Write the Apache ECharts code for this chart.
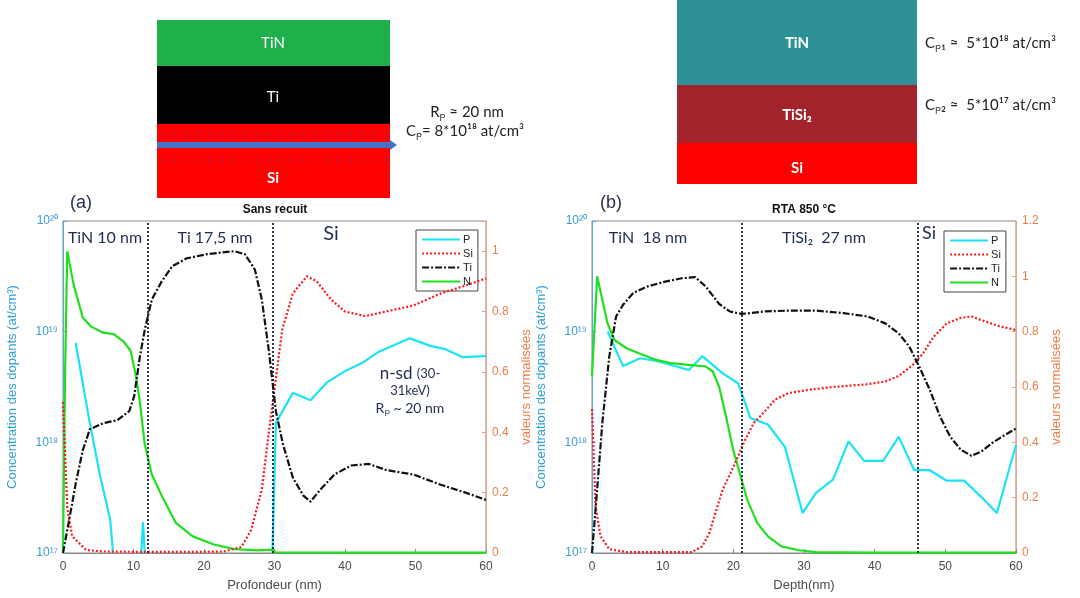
<!DOCTYPE html>
<html>
<head>
<meta charset="utf-8">
<script src="https://cdn.jsdelivr.net/npm/echarts@6/dist/echarts.min.js"></script>
<style>
html,body{margin:0;padding:0;background:#fff;}
#chart{width:1080px;height:598px;}
</style>
</head>
<body>
<div id="chart"></div>
<script>
// ---------- DATA ----------
const seriesNames = ['P', 'Si', 'Ti', 'N'];
const xTicks = [0, 10, 20, 30, 40, 50, 60];
const logTickExponents = [17, 18, 19, 20];

// (a) Sans recuit
const boundariesA = [12.0, 29.7];
const P_A_x = [1.8, 3.8, 5.2, 6.7, 7.1, 9.0, 11.1, 11.35, 11.6, 20.0, 29.7, 30.2, 32.6, 35.1, 37.5, 40.0, 42.4, 44.8, 49.2, 52.2, 54.1, 56.6, 60.0];
const P_A_y = [7.9e18, 1.5e18, 5.2e17, 2.0e17, 1e17, null, 1e17, 1.9e17, 1e17, null, 1e17, 1.5e18, 2.8e18, 2.4e18, 3.5e18, 4.4e18, 5.2e18, 6.6e18, 8.7e18, 7.4e18, 7.0e18, 5.9e18, 6.0e18];
const Si_A_x = [0, 0.6, 1.3, 3.3, 5.7, 10, 15, 20, 22.8, 25.3, 26.7, 28.2, 29.2, 30.2, 31.1, 32.6, 34.6, 36.0, 38.0, 40.0, 42.9, 45.8, 49.7, 53.6, 57.6, 60];
const Si_A_y = [0.5, 0.15, 0.055, 0.01, 0.005, 0.004, 0.004, 0.004, 0.005, 0.02, 0.077, 0.21, 0.40, 0.58, 0.74, 0.86, 0.917, 0.90, 0.84, 0.80, 0.785, 0.80, 0.82, 0.86, 0.89, 0.91];
const Ti_A_x = [0, 0.8, 1.8, 2.8, 3.8, 5.7, 7.7, 9.4, 10.1, 10.9, 11.6, 12.6, 14.0, 15.5, 17.5, 20.4, 24.3, 25.8, 27.2, 28.2, 29.2, 30.2, 31.2, 32.6, 34.1, 35.1, 36.5, 38.5, 40.9, 43.4, 45.8, 49.7, 53.6, 57.1, 60];
const Ti_A_y = [0, 0.1, 0.23, 0.34, 0.41, 0.43, 0.44, 0.47, 0.52, 0.65, 0.74, 0.84, 0.90, 0.95, 0.976, 0.99, 1.0, 0.99, 0.94, 0.84, 0.67, 0.47, 0.36, 0.25, 0.19, 0.17, 0.21, 0.26, 0.29, 0.295, 0.275, 0.26, 0.226, 0.2, 0.176];
const N_A_x = [0, 0.3, 0.6, 1.5, 2.8, 4.0, 5.7, 7.2, 8.6, 9.6, 10.4, 10.9, 11.6, 12.6, 14.0, 16.0, 18.4, 21.4, 24.3, 27.7, 29.7, 30.2, 40, 50, 60];
const N_A_y = [0, 0.6, 1.0, 0.89, 0.78, 0.75, 0.73, 0.725, 0.70, 0.67, 0.58, 0.50, 0.36, 0.26, 0.19, 0.10, 0.055, 0.028, 0.013, 0.009, 0.011, 0.002, 0.001, 0.001, 0.001];

// (b) RTA 850 °C
const boundariesB = [21.2, 46.1];
const P_B_x = [2.2, 4.4, 6.8, 9.3, 11.2, 13.7, 15.6, 18.5, 20.7, 22.4, 24.9, 27.3, 29.8, 31.7, 34.1, 36.3, 38.5, 41.2, 43.4, 45.6, 47.8, 50.2, 52.7, 55.1, 57.3, 60];
const P_B_y = [1.0e19, 4.9e18, 5.75e18, 5.4e18, 5.0e18, 4.5e18, 6.0e18, 4.2e18, 3.4e18, 1.66e18, 1.45e18, 9.1e17, 2.3e17, 3.5e17, 4.6e17, 1.02e18, 6.8e17, 6.8e17, 1.12e18, 5.6e17, 5.6e17, 4.5e17, 4.5e17, 3.2e17, 2.3e17, 9.5e17];
const Si_B_x = [0, 0.49, 1.22, 2.44, 4.9, 10, 14.1, 15.6, 16.6, 17.6, 18.5, 20, 21.5, 22.9, 24.4, 25.9, 27.8, 30.7, 34.1, 39, 41.5, 43.4, 45.4, 46.8, 48.3, 50.2, 52.2, 53.7, 55.6, 57.6, 60];
const Si_B_y = [0.52, 0.17, 0.06, 0.014, 0.003, 0.003, 0.003, 0.024, 0.072, 0.156, 0.23, 0.31, 0.40, 0.47, 0.51, 0.554, 0.578, 0.59, 0.60, 0.61, 0.62, 0.64, 0.68, 0.72, 0.78, 0.83, 0.85, 0.855, 0.837, 0.82, 0.806];
const Ti_B_x = [0, 0.73, 1.46, 2.44, 3.41, 4.39, 5.85, 7.8, 10.2, 12.7, 14.6, 16.1, 18, 19.5, 21.2, 24.4, 27.8, 31.7, 35.6, 39, 41.5, 43.4, 44.9, 46.3, 47.8, 49.3, 50.7, 52.2, 53.7, 55.1, 56.6, 58, 60];
const Ti_B_y = [0, 0.23, 0.47, 0.71, 0.855, 0.897, 0.94, 0.963, 0.98, 0.993, 0.997, 0.963, 0.90, 0.873, 0.864, 0.873, 0.876, 0.876, 0.867, 0.855, 0.83, 0.794, 0.746, 0.674, 0.59, 0.49, 0.42, 0.373, 0.351, 0.367, 0.397, 0.42, 0.45];
const N_B_x = [0, 0.73, 1.46, 2.2, 3.17, 4.9, 6.8, 8.8, 11.2, 13.7, 16.1, 17.1, 18, 19, 20, 21, 22, 23.4, 24.9, 26.8, 29.3, 31.7, 40, 50, 60];
const N_B_y = [0.64, 1.0, 0.915, 0.83, 0.77, 0.74, 0.72, 0.70, 0.686, 0.68, 0.674, 0.656, 0.60, 0.49, 0.37, 0.28, 0.19, 0.108, 0.06, 0.024, 0.01, 0.003, 0.001, 0.001, 0.001];

// ---------- HELPERS ----------
const zip = (xs, ys) => xs.map((x, i) => [x, ys[i]]);
const SUP = {'0':'⁰','1':'¹','2':'²','3':'³','4':'⁴','5':'⁵','6':'⁶','7':'⁷','8':'⁸','9':'⁹'};
const sup = n => String(n).split('').map(c => SUP[c] || c).join('');

const C_P = '#19e3f5', C_SI = '#ff1a1a', C_TI = '#111111', C_N = '#1ee01e';
const BLUE_AX = '#5aa9dd', BLUE_TXT = '#3a9ad6', ORANGE_AX = '#f2a383', ORANGE_TXT = '#ee7d4a';
const NAVY = '#1f2d50';
const HELV = '"Liberation Sans", Arial, sans-serif';
const CAL = 'Lato, "Open Sans", sans-serif';

function xAxisCfg(grid, name) {
  return {
    type: 'value', gridIndex: grid, min: xTicks[0], max: xTicks[xTicks.length - 1], interval: 10,
    axisLine: {show: true, lineStyle: {color: '#8a8a8a'}},
    axisTick: {inside: true, length: 4, lineStyle: {color: '#8a8a8a'}},
    axisLabel: {color: '#4a4a4a', fontSize: 12, fontFamily: HELV, margin: 8},
    splitLine: {show: false},
    name: name, nameLocation: 'middle', nameGap: 26,
    nameTextStyle: {color: '#4a4a4a', fontSize: 13, fontFamily: HELV}
  };
}
function logAxisCfg(grid) {
  return {
    type: 'log', logBase: 10, gridIndex: grid, position: 'left',
    min: Math.pow(10, logTickExponents[0]), max: Math.pow(10, logTickExponents[logTickExponents.length - 1]),
    axisLine: {show: true, lineStyle: {color: BLUE_AX}},
    axisTick: {inside: true, length: 4, lineStyle: {color: BLUE_AX}},
    axisLabel: {color: BLUE_TXT, fontSize: 12, fontFamily: HELV, margin: 5,
      formatter: v => '10' + sup(Math.round(Math.log10(v)))},
    splitLine: {show: false}, minorTick: {show: false},
    name: 'Concentration des dopants (at/cm³)', nameLocation: 'middle', nameGap: 44,
    nameTextStyle: {color: '#2f9fd8', fontSize: 13, fontFamily: HELV}
  };
}
function normAxisCfg(grid, max, gap) {
  return {
    type: 'value', gridIndex: grid, position: 'right', min: 0, max: max, interval: 0.2,
    axisLine: {show: true, lineStyle: {color: ORANGE_AX}},
    axisTick: {inside: true, length: 4, lineStyle: {color: ORANGE_AX}},
    axisLabel: {color: ORANGE_TXT, fontSize: 12, fontFamily: HELV, margin: 6,
      formatter: v => Math.abs(v * 5 - Math.round(v * 5)) < 1e-6 ? String(Math.round(v * 10) / 10) : ''},
    splitLine: {show: false},
    name: 'valeurs normalisées', nameLocation: 'middle', nameGap: gap,
    nameTextStyle: {color: ORANGE_TXT, fontSize: 13, fontFamily: HELV}
  };
}
function seriesSet(xi, yLog, yNorm, P, Si, Ti, N, bounds) {
  return [
    {name: 'P', type: 'line', xAxisIndex: xi, yAxisIndex: yLog, data: P, showSymbol: false, symbol: 'none',
      connectNulls: false, lineStyle: {color: C_P, width: 2.2}, itemStyle: {color: C_P}, z: 3,
      markLine: {silent: true, symbol: ['none', 'none'], label: {show: false},
        lineStyle: {color: '#1c2340', type: [2, 2], width: 1.8},
        data: bounds.map(b => ({xAxis: b}))}},
    {name: 'Si', type: 'line', xAxisIndex: xi, yAxisIndex: yNorm, data: Si, symbol: 'none',
      lineStyle: {color: C_SI, width: 2.2, type: [2, 2]}, itemStyle: {color: C_SI}, z: 4},
    {name: 'Ti', type: 'line', xAxisIndex: xi, yAxisIndex: yNorm, data: Ti, symbol: 'none',
      lineStyle: {color: C_TI, width: 2.2, type: [7, 2, 2, 2]}, itemStyle: {color: C_TI}, z: 5},
    {name: 'N', type: 'line', xAxisIndex: xi, yAxisIndex: yNorm, data: N, symbol: 'none',
      lineStyle: {color: C_N, width: 2.2}, itemStyle: {color: C_N}, z: 3}
  ];
}
function legendCfg(left, top) {
  return {
    data: seriesNames, orient: 'vertical', left: left, top: top,
    backgroundColor: '#fff', borderColor: '#444', borderWidth: 1, borderRadius: 0,
    padding: [4, 5, 4, 5], itemGap: 3, itemWidth: 38, itemHeight: 13,
    itemStyle: {opacity: 0},
    lineStyle: {width: 2.2},
    textStyle: {color: '#222', fontSize: 11, fontFamily: HELV, padding: [0, 0, 0, -2]},
    selectedMode: false
  };
}

// ---------- GRAPHIC (schematics & annotations) ----------
const graphics = [];
function txt(x, y, text, size, color, opts) {
  graphics.push(Object.assign({
    type: 'text', x: x, y: y, silent: true,
    style: Object.assign({text: text, fontSize: size, fill: color, fontFamily: CAL,
      textAlign: 'center', textVerticalAlign: 'middle'}, (opts && opts.style) || {})
  }, (opts && opts.el) || {}));
}
function rect(x, y, w, h, fill) {
  graphics.push({type: 'rect', shape: {x: x, y: y, width: w, height: h}, style: {fill: fill}, silent: true});
}
// left schematic
rect(157, 20, 233, 46, '#1fb04c');
rect(157, 66, 233, 58, '#000000');
rect(157, 124, 233, 74, '#ff0000');
for (let i = 0; i < 20; i++) {
  [134, 160].forEach(yy => graphics.push({type: 'circle', shape: {cx: 163 + i * 11.7, cy: yy, r: 1.8},
    style: {fill: '#b52040', opacity: 0.8}, silent: true}));
}
rect(157, 142, 233, 6, '#4472c4');
graphics.push({type: 'polygon', shape: {points: [[390, 140], [397, 145], [390, 150]]}, style: {fill: '#4472c4'}, silent: true});
txt(273, 43, 'TiN', 15, '#fff');
txt(273, 97, 'Ti', 15, '#fff');
txt(273, 178, 'Si', 15, '#fff', {style: {fontWeight: 'bold'}});
txt(467, 112, 'Rₚ ≈ 20 nm', 15, '#222');
txt(465, 131, 'Cₚ= 8*10¹⁸ at/cm³', 15, '#222');
// right schematic
rect(677, 0, 240, 85, '#2e9197');
rect(677, 85, 240, 58, '#a3232d');
rect(677, 143, 240, 41, '#ff0000');
txt(797, 43, 'TiN', 15, '#fff', {style: {fontWeight: 'bold'}});
txt(797, 115, 'TiSi₂', 15, '#fff', {style: {fontWeight: 'bold'}});
txt(797, 168, 'Si', 15, '#fff', {style: {fontWeight: 'bold'}});
txt(925, 43, 'Cₚ₁ ≈  5*10¹⁸ at/cm³', 15, '#222', {style: {textAlign: 'left'}});
txt(925, 105, 'Cₚ₂ ≈  5*10¹⁷ at/cm³', 15, '#222', {style: {textAlign: 'left'}});
// chart (a) annotations
txt(81, 203, '(a)', 18, '#2a3050', {style: {fontFamily: HELV}});
txt(275, 210, 'Sans recuit', 12, '#111', {style: {fontFamily: HELV, fontWeight: 'bold'}});
txt(105, 238, 'TiN 10 nm', 16, NAVY);
txt(215, 238, 'Ti 17,5 nm', 16, NAVY);
txt(331, 234, 'Si', 20, NAVY);
txt(410, 374, '{a|n-sd }{b|(30-}', 16, NAVY, {style: {rich: {a: {fontSize: 17, fill: NAVY, fontFamily: CAL}, b: {fontSize: 13, fill: NAVY, fontFamily: CAL}}}});
txt(410, 391, '31keV)', 13, NAVY);
txt(410, 408, 'Rₚ ~ 20 nm', 14, NAVY);
// chart (b) annotations
txt(611, 203, '(b)', 18, '#2a3050', {style: {fontFamily: HELV}});
txt(804, 210, 'RTA 850 °C', 12, '#111', {style: {fontFamily: HELV, fontWeight: 'bold'}});
txt(648, 238, 'TiN  18 nm', 16, NAVY);
txt(824, 238, 'TiSi₂  27 nm', 16, NAVY);
txt(929, 233, 'Si', 18, NAVY);

// ---------- CHART ----------
const chart = echarts.init(document.getElementById('chart'), null, {renderer: 'canvas'});
chart.setOption({
  animation: false,
  backgroundColor: '#fff',
  grid: [
    {left: 63, top: 221, width: 423, height: 332, show: true, borderColor: '#8a8a8a', borderWidth: 1},
    {left: 592, top: 221, width: 424, height: 332, show: true, borderColor: '#8a8a8a', borderWidth: 1}
  ],
  xAxis: [xAxisCfg(0, 'Profondeur (nm)'), xAxisCfg(1, 'Depth(nm)')],
  yAxis: [logAxisCfg(0), normAxisCfg(0, 1.1, 34), logAxisCfg(1), normAxisCfg(1, 1.2, 34)],
  legend: [legendCfg(416, 230), legendCfg(944, 231)],
  series: [].concat(
    seriesSet(0, 0, 1, zip(P_A_x, P_A_y), zip(Si_A_x, Si_A_y), zip(Ti_A_x, Ti_A_y), zip(N_A_x, N_A_y), boundariesA),
    seriesSet(1, 2, 3, zip(P_B_x, P_B_y), zip(Si_B_x, Si_B_y), zip(Ti_B_x, Ti_B_y), zip(N_B_x, N_B_y), boundariesB)
  ),
  graphic: graphics
});
</script>
</body>
</html>
